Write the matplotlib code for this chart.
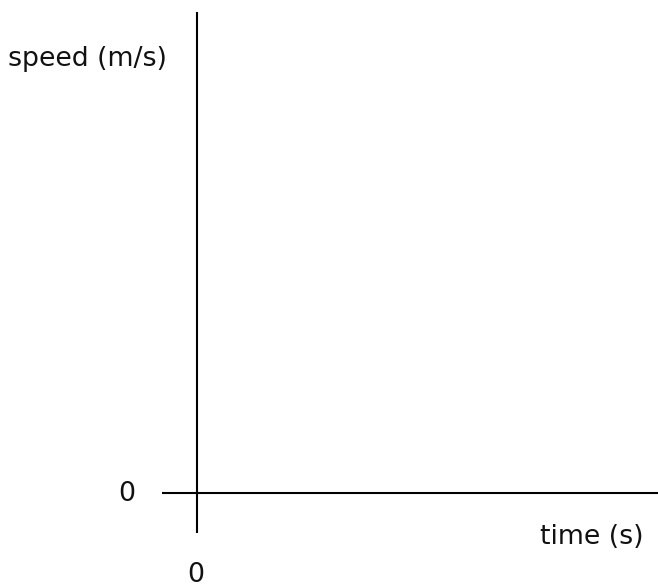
import matplotlib
matplotlib.use("Agg")
import matplotlib.pyplot as plt

# Axis labels and tick labels
x_label = "time (s)"
y_label = "speed (m/s)"
x_tick_labels = ["0"]
y_tick_labels = ["0"]

# Axis extents (in data units, origin at the crossing)
x_axis_range = [-35, 461]
y_axis_range = [-40, 481]

fig = plt.figure(figsize=(6.58, 5.88), dpi=100)
ax = fig.add_axes([0, 0, 1, 1])
ax.set_xlim(-197, 461)
ax.set_ylim(-95, 493)
ax.axis("off")

ax.plot(x_axis_range, [0, 0], color="black", lw=1.5, solid_capstyle="butt")
ax.plot([0, 0], y_axis_range, color="black", lw=1.5, solid_capstyle="butt")

fs = 19.3
tc = "#111111"
ax.text(-109, 434, y_label, ha="center", va="center", fontsize=fs, family="DejaVu Sans", color=tc)
ax.text(-70.5, -1, y_tick_labels[0], ha="center", va="center", fontsize=fs, family="DejaVu Sans", color=tc)
ax.text(395, -44, x_label, ha="center", va="center", fontsize=fs, family="DejaVu Sans", color=tc)
ax.text(-1, -82, x_tick_labels[0], ha="center", va="center", fontsize=fs, family="DejaVu Sans", color=tc)

fig.savefig("out.png", dpi=100)
